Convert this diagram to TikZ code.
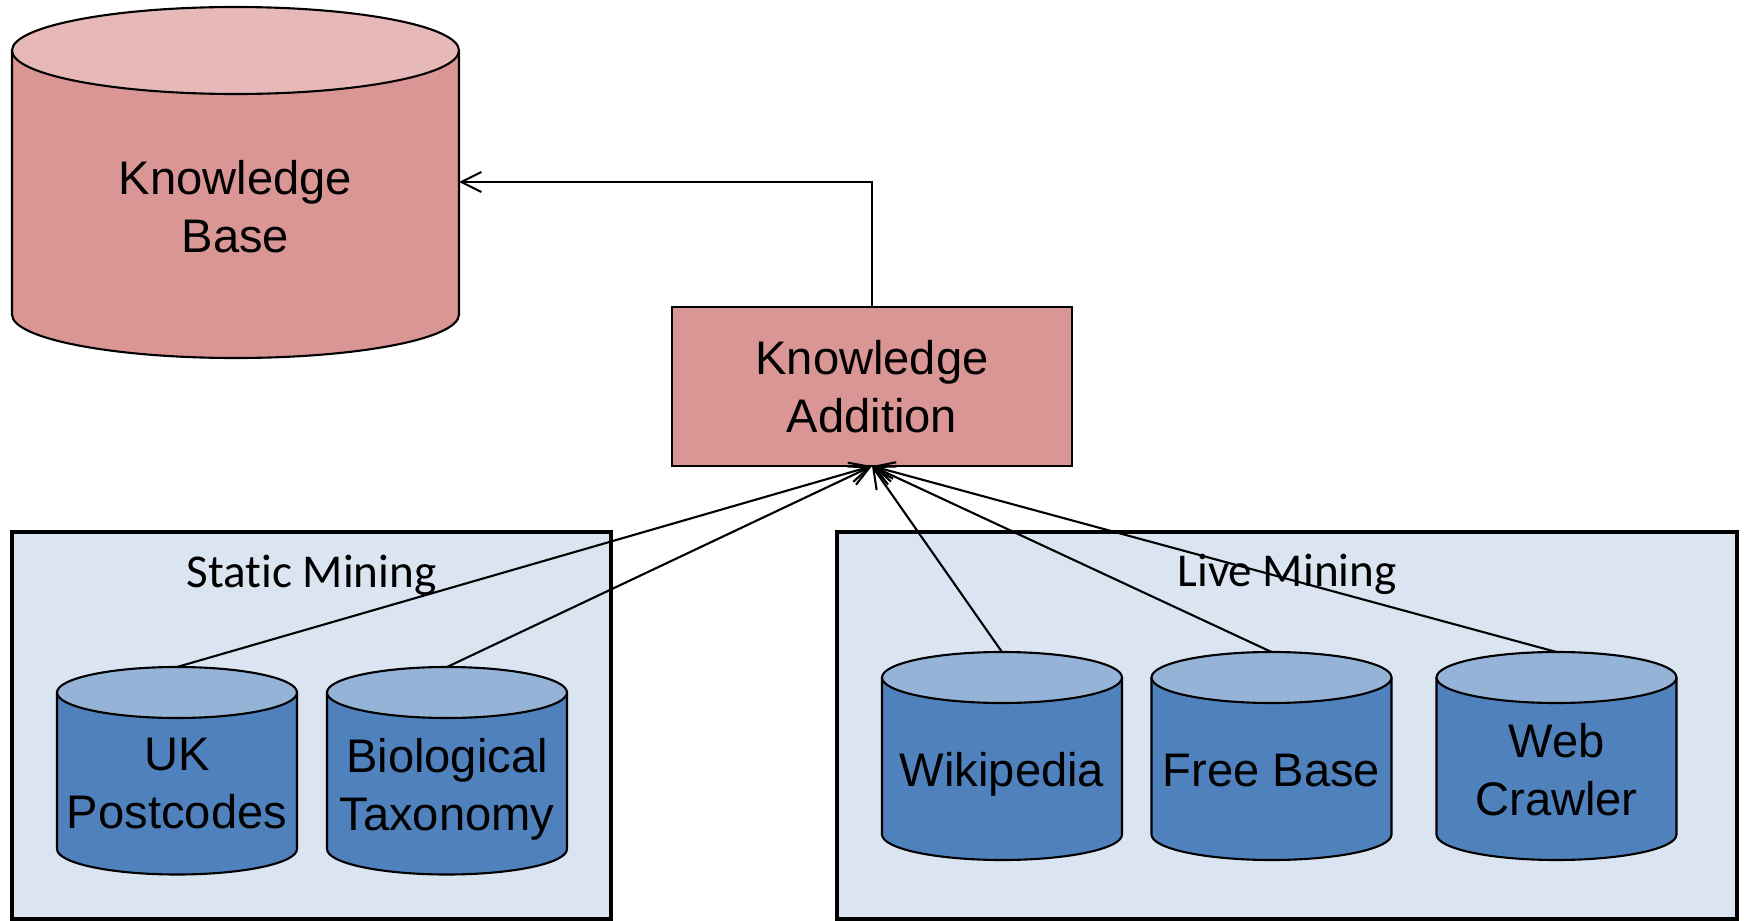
\documentclass[tikz,border=0pt]{standalone}
\usepackage{fontspec}
\setmainfont{Liberation Sans}
\newfontfamily\calib[Ligatures=NoCommon]{Carlito}
\usetikzlibrary{arrows.meta}
\definecolor{pinkside}{HTML}{D99694}
\definecolor{pinktop}{HTML}{E6B9B8}
\definecolor{blueside}{HTML}{4F81BD}
\definecolor{bluetop}{HTML}{95B3D7}
\definecolor{boxbg}{HTML}{DBE5F1}
% #1 name of top point, #2 cx, #3 top-centre y, #4 bottom-centre y, #5 rx, #6 ry, #7 side colour, #8 top colour
\newcommand\dbcyl[8]{%
  \fill[#7] (#2-#5,-#3) -- (#2-#5,-#4) arc[start angle=180,end angle=360,x radius=#5,y radius=#6] -- (#2+#5,-#3) -- cycle;
  \draw[cylline] (#2-#5,-#3) -- (#2-#5,-#4) arc[start angle=180,end angle=360,x radius=#5,y radius=#6] -- (#2+#5,-#3);
  \filldraw[cylline,fill=#8] (#2,-#3) ellipse[x radius=#5,y radius=#6];
  \coordinate (#1) at (#2,-#3+#6);
}
\tikzset{
  cylline/.style={line width=0.6pt,draw=black},
  bigtxt/.style={font=\fontsize{13.4}{16.5}\selectfont,align=center,inner sep=0pt,outer sep=0pt},
  grouplbl/.style={font=\calib\fontsize{13.4}{16.5}\selectfont,inner sep=0pt,anchor=base},
  groupbox/.style={draw=black,line width=1.2pt,fill=boxbg},
  arr/.style={line width=0.6pt,-{Straight Barb[length=2mm,width=2mm]}},
}
\begin{document}
\begin{tikzpicture}[x=0.01cm,y=0.01cm]
\useasboundingbox (0,0) rectangle (1744,-921);
% group boxes
\draw[groupbox] (12,-532) rectangle (611,-919);
\draw[groupbox] (837,-532) rectangle (1737,-919);
\node[grouplbl] (stlbl) at (311.5,-587) {Static Mining};
\node[grouplbl] (lvlbl) at (1287,-586) {Live Mining};
% knowledge base
\dbcyl{kbtop}{235.5}{50.5}{314.5}{223.5}{43.5}{pinkside}{pinktop}
\coordinate (kbside) at (459,-182);
\node[bigtxt,anchor=north] (kbt) at (235.5,-160) {Knowledge\\Base};
% knowledge addition
\node[draw=black,line width=0.7pt,fill=pinkside,minimum width=4cm,minimum height=1.59cm,
      bigtxt,outer sep=0pt] (ka) at (872,-386.5) {Knowledge\\Addition};
% static sources
\dbcyl{uk}{177}{692.5}{849}{120}{25.5}{blueside}{bluetop}
\dbcyl{bio}{447}{692.5}{849}{120}{25.5}{blueside}{bluetop}
\node[bigtxt,anchor=north] (ukt) at (177,-738) {UK\\Postcodes};
\node[bigtxt,anchor=north] (biot) at (447,-738) {Biological\\Taxonomy};
% live sources
\dbcyl{wiki}{1002}{677.5}{834.5}{120}{25.5}{blueside}{bluetop}
\dbcyl{fb}{1271.5}{677.5}{834.5}{120}{25.5}{blueside}{bluetop}
\dbcyl{web}{1556.5}{677.5}{834.5}{120}{25.5}{blueside}{bluetop}
\node[bigtxt,anchor=base] (wikit) at (1002,-786) {Wikipedia};
\node[bigtxt,anchor=base] (fbt) at (1271.5,-786) {Free Base};
\node[bigtxt,anchor=north] (webt) at (1556.5,-723) {Web\\Crawler};
% connectors
\draw[arr] (ka.north) |- (kbside);
\foreach \s in {uk,bio,wiki,fb,web}{
  \draw[arr] (\s) -- (ka.south);
}
\end{tikzpicture}
\end{document}
